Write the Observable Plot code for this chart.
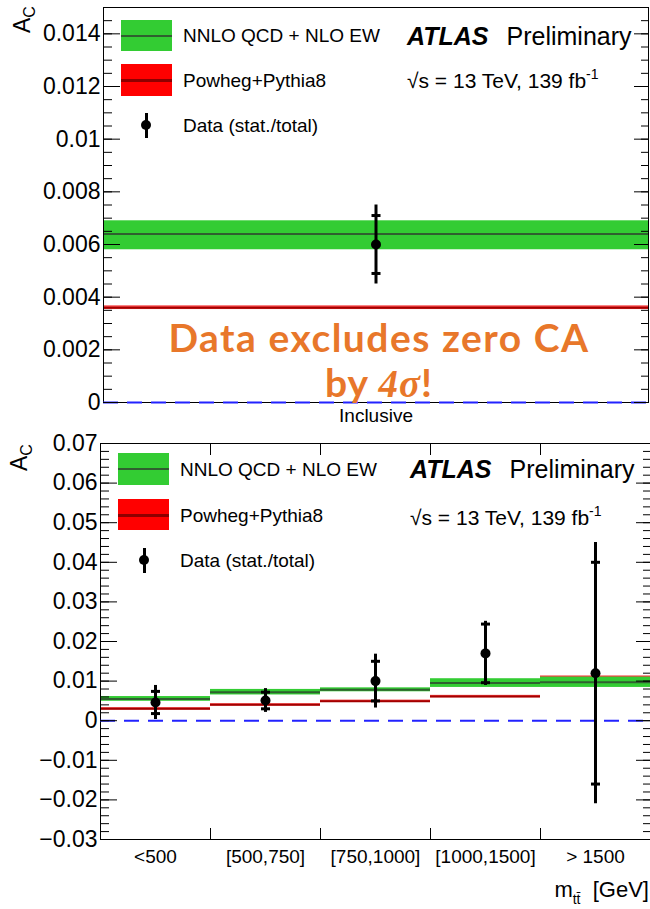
<!DOCTYPE html>
<html><head><meta charset="utf-8">
<script src="https://cdn.jsdelivr.net/npm/d3@7"></script>
<script src="https://cdn.jsdelivr.net/npm/@observablehq/plot@0.6"></script>
<style>
html,body{margin:0;padding:0;background:#fff;}
#wrap{position:relative;width:650px;height:909px;overflow:hidden;font-family:"Liberation Sans",Arial,Helvetica,sans-serif;color:#000;}
#top{position:absolute;left:0;top:0;width:650px;height:427px;overflow:hidden;}
#bot{position:absolute;left:0;top:427px;width:650px;height:482px;overflow:hidden;}
#top svg,#bot svg{display:block;}
</style></head><body>
<div id="wrap"><div id="top"></div><div id="bot"></div></div>
<script>
// ---------- data ----------
const seriesNames = ["NNLO QCD + NLO EW", "Powheg+Pythia8", "Data (stat./total)"];

// inclusive (top panel)
const inclusiveLabel = ["Inclusive"];
const inclNnlo = [0.0064];
const inclNnloLo = [0.0058];
const inclNnloHi = [0.0069];
const inclPowheg = [0.0036];
const inclPowhegUnc = [0.00007];
const inclData = [0.0060];
const inclStat = [0.0011];
const inclTotal = [0.0015];

// differential in m_tt (bottom panel)
const massBins = ["<500", "[500,750]", "[750,1000]", "[1000,1500]", "> 1500"];
const nnloAc = [0.0055, 0.0072, 0.0078, 0.0095, 0.0097];
const nnloUnc = [0.0006, 0.0007, 0.0005, 0.0011, 0.0013];
const powhegAc = [0.0030, 0.0040, 0.0049, 0.0061, 0.0100];
const powhegUnc = [0.0003, 0.0003, 0.0003, 0.0003, 0.0013];
const dataAc = [0.0046, 0.0051, 0.0100, 0.0170, 0.0120];
const dataStat = [0.0028, 0.0021, 0.0050, 0.0074, 0.0280];
const dataTotal = [0.0043, 0.0030, 0.0068, 0.0081, 0.0330];

// ticks
const topMajor = [0, 0.002, 0.004, 0.006, 0.008, 0.01, 0.012, 0.014];
const topMinor = d3.range(0, 31).map(i => +(i * 0.0005).toFixed(4));
const botMajor = [-0.03, -0.02, -0.01, 0, 0.01, 0.02, 0.03, 0.04, 0.05, 0.06, 0.07];
const botMinor = d3.range(-15, 36).map(i => +(i * 0.002).toFixed(3));

// ---------- styles ----------
const GREEN = "#33cc33", GREEN_LINE = "#2f5f2f";
const RED = "#f02020", RED_LINE = "#a30000";
const BLUE = "#2222ff";
const FONT = '"Liberation Sans", Arial, Helvetica, sans-serif';

const capSymbol = {draw(ctx, size) { const r = Math.sqrt(size / Math.PI); ctx.moveTo(-r, 0); ctx.lineTo(r, 0); }};

function panelMarks(rows, major, minor, fmt, boundaries, labelPad, labelSize) {
  const m = [
    Plot.rect(rows, {x1: d => d.i, x2: d => d.i + 1, y1: d => d.pw - d.pwU, y2: d => d.pw + d.pwU, fill: RED, fillOpacity: 0.85}),
    Plot.ruleY(rows, {x1: d => d.i, x2: d => d.i + 1, y: "pw", stroke: RED_LINE, strokeWidth: 2}),
    Plot.rect(rows, {x1: d => d.i, x2: d => d.i + 1, y1: "nLo", y2: "nHi", fill: GREEN}),
    Plot.ruleY(rows, {x1: d => d.i, x2: d => d.i + 1, y: "n", stroke: GREEN_LINE, strokeWidth: 2}),
    Plot.frame({stroke: "black", strokeWidth: 1}),
    Plot.ruleY([0], {stroke: BLUE, strokeWidth: 2, strokeDasharray: "15,9"}),
    Plot.axisY({anchor: "left", ticks: major, tickSize: -17, fill: "none", tickFormat: () => "", label: null}),
    Plot.axisY({anchor: "left", ticks: minor, tickSize: -9, fill: "none", tickFormat: () => "", label: null}),
    Plot.axisY({anchor: "right", ticks: major, tickSize: -15, fill: "none", tickFormat: () => "", label: null}),
    Plot.axisY({anchor: "right", ticks: minor, tickSize: -8, fill: "none", tickFormat: () => "", label: null}),
    Plot.axisY({anchor: "left", ticks: major, tickSize: 0, tickPadding: 3, tickFormat: fmt, fontSize: 23, label: null}),
    Plot.axisX({anchor: "bottom", ticks: rows.map(d => d.i + 0.5), tickSize: 0, tickPadding: labelPad, tickFormat: (v) => rows[Math.floor(v)].cat, fontSize: labelSize, label: null}),
    Plot.ruleX(rows, {x: d => d.i + 0.5, y1: d => d.v - d.tot, y2: d => d.v + d.tot, stroke: "black", strokeWidth: 3}),
    Plot.dot(rows, {x: d => d.i + 0.5, y: d => d.v + d.st, symbol: capSymbol, r: 4.5, stroke: "black", strokeWidth: 3, fill: "none"}),
    Plot.dot(rows, {x: d => d.i + 0.5, y: d => d.v - d.st, symbol: capSymbol, r: 4.5, stroke: "black", strokeWidth: 3, fill: "none"}),
    Plot.dot(rows, {x: d => d.i + 0.5, y: "v", r: 5, fill: "black", stroke: "none"})
  ];
  if (boundaries.length) {
    m.push(Plot.axisX({anchor: "bottom", ticks: boundaries, tickSize: -11, fill: "none", tickFormat: () => "", label: null}));
    m.push(Plot.axisX({anchor: "top", ticks: boundaries, tickSize: -11, fill: "none", tickFormat: () => "", label: null}));
  }
  return m;
}

const topRows = inclusiveLabel.map((c, i) => ({
  cat: c, i, n: inclNnlo[i], nLo: inclNnloLo[i], nHi: inclNnloHi[i],
  pw: inclPowheg[i], pwU: inclPowhegUnc[i], v: inclData[i], st: inclStat[i], tot: inclTotal[i]
}));
const botRows = massBins.map((c, i) => ({
  cat: c, i, n: nnloAc[i], nLo: nnloAc[i] - nnloUnc[i], nHi: nnloAc[i] + nnloUnc[i],
  pw: powhegAc[i], pwU: powhegUnc[i], v: dataAc[i], st: dataStat[i], tot: dataTotal[i]
}));

const fmtTop = d => d === 0 ? "0" : String(+d.toFixed(3));
const fmtBot = d => d === 0 ? "0" : (d < 0 ? "\u2212" : "") + String(Math.abs(+d.toFixed(2)));

const style = {fontFamily: FONT, fontSize: "23px", background: "white", color: "black"};

const topPlot = Plot.plot({
  width: 650, height: 427,
  marginTop: 7, marginBottom: 25, marginLeft: 103, marginRight: 2,
  x: {domain: [0, inclusiveLabel.length], axis: null},
  y: {domain: [0, 0.015], axis: null},
  style,
  marks: panelMarks(topRows, topMajor, topMinor, fmtTop, [], 6, 19)
});
document.getElementById("top").appendChild(topPlot);

const botPlot = Plot.plot({
  width: 650, height: 482,
  marginTop: 16, marginBottom: 70, marginLeft: 100, marginRight: 0,
  x: {domain: [0, massBins.length], axis: null},
  y: {domain: [-0.03, 0.07], axis: null},
  style,
  marks: panelMarks(botRows, botMajor, botMinor, fmtBot, d3.range(1, massBins.length), 9.5, 19)
});
document.getElementById("bot").appendChild(botPlot);

// ---------- text overlays ----------
const wrap = document.getElementById("wrap");
function el(css, html) {
  const e = document.createElement("div");
  e.style.cssText = "position:absolute;white-space:nowrap;line-height:1;" + css;
  if (html != null) e.innerHTML = html;
  wrap.appendChild(e);
  return e;
}
function legend(L) {
  el(`left:${L.bx}px;top:${L.gTop}px;width:51px;height:${L.gH}px;background:${GREEN};`);
  el(`left:${L.bx}px;top:${L.gTop + L.gH / 2 - 1}px;width:51px;height:2px;background:${GREEN_LINE};`);
  el(`left:${L.bx}px;top:${L.rTop}px;width:51px;height:${L.rH}px;background:#ff0000;`);
  el(`left:${L.bx}px;top:${L.rTop + L.rH / 2 - 1}px;width:51px;height:3px;background:#8e0000;`);
  el(`left:${L.dx - 1.5}px;top:${L.dy - 12.5}px;width:3px;height:25px;background:black;`);
  el(`left:${L.dx - 5}px;top:${L.dy - 5}px;width:10px;height:10px;border-radius:50%;background:black;`);
  L.rows.forEach((y, k) => el(`left:${L.tx}px;top:${y}px;font-size:19px;transform:translateY(-50%);`, seriesNames[k]));
  el(`left:${L.ax}px;top:${L.ay}px;font-size:25px;transform:translateY(-50%);`,
     '<span style="font-weight:bold;font-style:italic">ATLAS</span><span style="display:inline-block;width:18px"></span>Preliminary');
  el(`left:${L.ax}px;top:${L.sy}px;font-size:21px;transform:translateY(-50%);`,
     '\u221As = 13 TeV, 139 fb<span style="font-size:14px;position:relative;top:-9px">-1</span>');
  el(`left:${L.yl}px;top:${L.yt}px;transform-origin:0 0;transform:rotate(-90deg);font-size:23px;`,
     'A<span style="font-size:16px;position:relative;top:5px">C</span>');
}
legend({bx: 121, gTop: 20, gH: 31, rTop: 64, rH: 32, dx: 146, dy: 125, tx: 183, rows: [35, 80, 125],
        ax: 407, ay: 36, sy: 80, yl: 10.5, yt: 33});
legend({bx: 118, gTop: 453, gH: 32, rTop: 499, rH: 31, dx: 144, dy: 560, tx: 180, rows: [469, 515, 560],
        ax: 410, ay: 469, sy: 517, yl: 7.5, yt: 471});

// x-axis title
el(`right:1px;top:890px;font-size:22px;transform:translateY(-50%);`,
   'm<span style="font-size:14px;position:relative;top:7px">tt\u0304</span>&nbsp; [GeV]');

// annotation
const ORANGE = "#e8772a";
el(`left:379px;top:337px;transform:translate(-50%,-50%);font-family:Lato,"Open Sans",sans-serif;font-weight:bold;font-size:39px;letter-spacing:1.5px;color:${ORANGE};`,
   'Data excludes zero CA');
el(`left:379px;top:383px;transform:translate(-50%,-50%);font-family:Lato,"Open Sans",sans-serif;font-weight:bold;font-size:39px;letter-spacing:1px;color:${ORANGE};`,
   'by <span style="font-family:\'Liberation Serif\',serif;font-style:italic;">4\u03C3</span>!');
</script>
</body></html>
